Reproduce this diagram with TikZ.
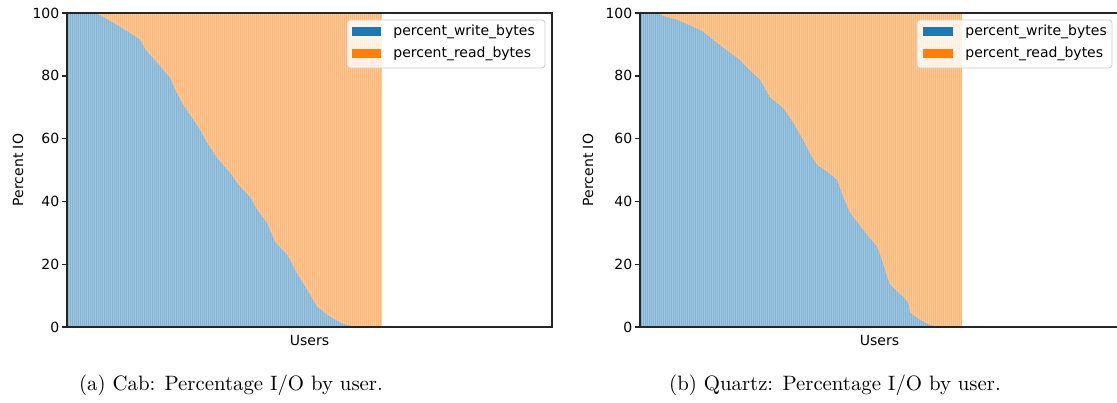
\documentclass[tikz,border=0pt]{standalone}
\usepackage{fontspec}
\newfontfamily\plotfont{DejaVu Sans}
\definecolor{writeblue}{HTML}{1F77B4}
\definecolor{readorange}{HTML}{FF7F0E}
\tikzset{
  writefill/.style={fill=writeblue!56!white},
  readfill/.style={fill=readorange!56!white},
  writestripe/.style={draw=writeblue!42!white, line width=0.5pt},
  readstripe/.style={draw=readorange!42!white, line width=0.5pt},
  spine/.style={draw=black!85, line width=0.7pt},
  plottext/.style={font=\plotfont\fontsize{7}{8}\selectfont},
  ticklabel/.style={plottext, anchor=east, inner sep=1pt},
  legendbox/.style={draw=black!20, fill=white, fill opacity=0.8, rounded corners=1.5pt, line width=0.4pt},
  legendtext/.style={plottext, anchor=west, inner sep=0pt},
  caption/.style={anchor=base, inner sep=0pt, font=\fontsize{10.4}{12}\selectfont}
}
% top of the write bars, x in px from the axis, y in percent
\def\cabcurve{0/100,26/100,33/99.3,48/96.5,63/93.6,73/91.4,79/88,85/86,93/83,
  103/79.3,108/75.5,116/70.7,123/67.5,133/62.7,140/58.6,150/53.8,163/49,173/44.6,
  176/43.6,183/41.4,190/37.3,200/33,208/27,220/23,230/17,240/11.8,250/6.4,263/3.2,
  276/1,288/0,315/0}
\def\quartzcurve{0/100,18/100,23/99,37/97.8,50/96,63/94,73/91.4,87/88,100/85,
  107/82.5,120/78.7,130/73,143/69.7,153/65,163/59.5,172/54,177/51.6,187/49.4,
  197/46.8,203/41.4,210/36.3,217/33.4,227/29.3,237/25.5,240/23,247/16,250/13.4,
  263/9.6,268/7.6,270/4.5,280/2.2,290/0.6,300/0,322/0}
\begin{document}
\begin{tikzpicture}[x=0.5pt,y=-0.5pt]
\useasboundingbox (0,0) rectangle (1117,402);
\clip (0,0) rectangle (1117,402); % right panel is cut at the page edge

% (a) Cab
\begin{scope}[shift={(67,327)}, y=1.57pt] % x in px, y in percent
  \fill[readfill] (0,0) rectangle (315,100);
  \foreach \k in {0,...,157} \draw[readstripe] ({2*\k+0.5},0) -- ++(0,100);
  \fill[writefill] (0,0) \foreach \px/\pv in \cabcurve { -- (\px,\pv) } -- cycle;
  \begin{scope}
    \clip (0,0) \foreach \px/\pv in \cabcurve { -- (\px,\pv) } -- cycle;
    \foreach \k in {0,...,157} \draw[writestripe] ({2*\k+0.5},0) -- ++(0,100);
  \end{scope}
  \draw[spine] (0,0) rectangle (485,100);
  \foreach \v in {0,20,...,100}
    \draw[spine] (0,\v) -- (-5,\v) node[ticklabel] (tickA\v) {\v};
  \node[plottext, rotate=90] (ylabelA) at (-49,50) {Percent IO};
  \node[plottext] (xlabelA) at (242.5,-4.2) {Users};
  % legend
  \draw[legendbox] (280,97.8) rectangle (478,82.5);
  \fill[writeblue] (285,95.5) rectangle (314,92.7);
  \fill[readorange] (285,88.5) rectangle (314,85.7);
  \node[legendtext] (writeA) at (326,94.1) {percent\_write\_bytes};
  \node[legendtext] (readA) at (326,87.1) {percent\_read\_bytes};
\end{scope}
\node[caption] (capA) at (231,390) {(a) Cab: Percentage I/O by user.};

% (b) Quartz
\begin{scope}[shift={(640,327)}, y=1.57pt]
  \fill[readfill] (0,0) rectangle (322,100);
  \foreach \k in {0,...,160} \draw[readstripe] ({2*\k+0.5},0) -- ++(0,100);
  \fill[writefill] (0,0) \foreach \px/\pv in \quartzcurve { -- (\px,\pv) } -- cycle;
  \begin{scope}
    \clip (0,0) \foreach \px/\pv in \quartzcurve { -- (\px,\pv) } -- cycle;
    \foreach \k in {0,...,160} \draw[writestripe] ({2*\k+0.5},0) -- ++(0,100);
  \end{scope}
  \draw[spine] (0,0) rectangle (479,100);
  \foreach \v in {0,20,...,100}
    \draw[spine] (0,\v) -- (-5,\v) node[ticklabel] (tickB\v) {\v};
  \node[plottext, rotate=90] (ylabelB) at (-52,50) {Percent IO};
  \node[plottext] (xlabelB) at (239.5,-4.2) {Users};
  % legend
  \draw[legendbox] (277,97.8) rectangle (472,82.5);
  \fill[writeblue] (283,95.5) rectangle (313,92.7);
  \fill[readorange] (283,88.5) rectangle (313,85.7);
  \node[legendtext] (writeB) at (325,94.1) {percent\_write\_bytes};
  \node[legendtext] (readB) at (325,87.1) {percent\_read\_bytes};
\end{scope}
\node[caption] (capB) at (835,390) {(b) Quartz: Percentage I/O by user.};
\end{tikzpicture}
\end{document}
